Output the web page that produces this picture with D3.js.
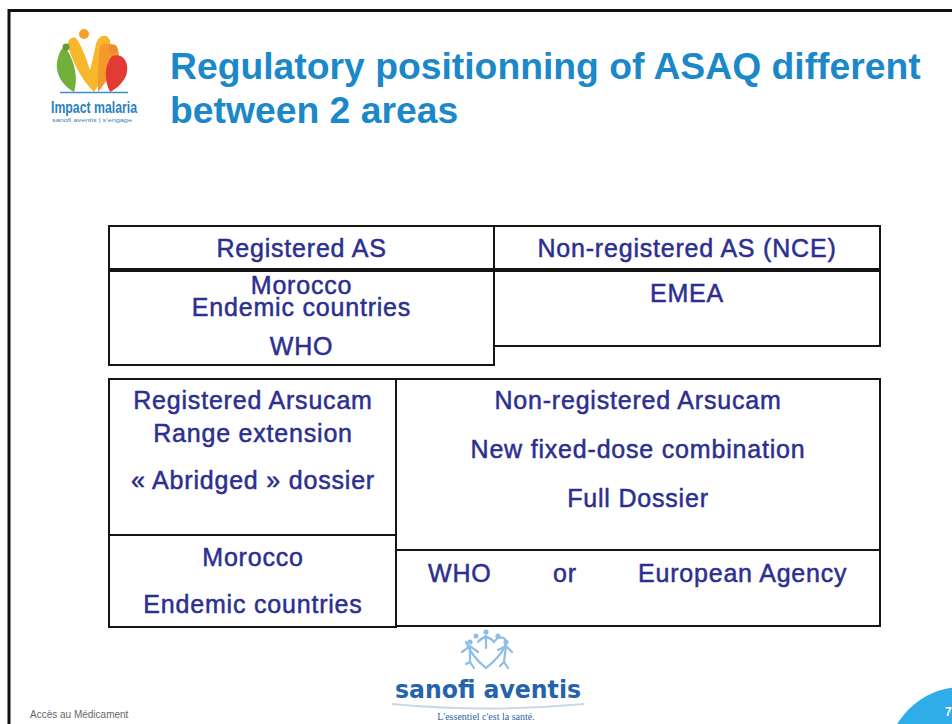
<!DOCTYPE html>
<html>
<head>
<meta charset="utf-8">
<script src="https://cdn.jsdelivr.net/npm/d3@7"></script>
<style>
  html, body { margin: 0; padding: 0; background: #fff; overflow: hidden; }
  svg { display: block; font-family: "Liberation Sans", Arial, sans-serif; }
</style>
</head>
<body>
<svg id="slide"></svg>
<script>
// slide text
var titleLines = ["Regulatory positionning of ASAQ different", "between 2 areas"];
var footerText = "Accès au Médicament";
var pageNumber = "7";

// table 1 : active substance
var asHeaders = ["Registered AS", "Non-registered AS (NCE)"];
var asBodies = [["Morocco", "Endemic countries", "WHO"], ["EMEA"]];

// table 2 : product
var productTop = [["Registered Arsucam", "Range extension", "« Abridged » dossier"],
                  ["Non-registered Arsucam", "New fixed-dose combination", "Full Dossier"]];
var productBottom = [["Morocco", "Endemic countries"], ["WHO", "or", "European Agency"]];

var width = 952, height = 724;
var svg = d3.select("#slide").attr("width", width).attr("height", height);

var blue = "#2c2f90";
var titleBlue = "#1b88c9";

// slide frame (left + top only visible)
svg.append("path")
   .attr("d", "M9,724 V10.5 H952")
   .attr("fill", "none")
   .attr("stroke", "#111")
   .attr("stroke-width", 3);

// title
svg.selectAll(".title")
   .data(titleLines)
   .enter()
   .append("text")
   .attr("class", "title")
   .attr("x", 170)
   .attr("y", function (d, i) { return 79 + i * 44; })
   .attr("fill", titleBlue)
   .attr("font-size", 37.3)
   .attr("font-weight", "bold")
   .text(function (d) { return d; });

// Impact malaria logo
var logo = svg.append("g");
logo.append("path")  // green leaf
    .attr("d", "M58,58 C54,70 60,84 74,92 C78,80 76,64 66,48 C63,46 60,50 58,58 Z")
    .attr("fill", "#72b03c");
logo.append("path")  // yellow body
    .attr("d", "M68,46 C72,60 80,78 94,92 C104,78 112,58 110,40 C106,32 98,36 96,44 C94,54 92,62 90,70 C86,58 82,46 76,38 C72,36 67,40 68,46 Z")
    .attr("fill", "#f6b72c");
logo.append("path")  // orange
    .attr("d", "M100,46 C110,40 122,46 118,58 C114,70 106,82 98,92 C98,76 98,62 100,46 Z")
    .attr("fill", "#f29a2c");
logo.append("path")  // red leaf
    .attr("d", "M112,56 C124,52 130,64 126,76 C122,84 116,89 110,92 C104,80 104,66 112,56 Z")
    .attr("fill", "#e23a35");
logo.append("circle").attr("cx", 84).attr("cy", 34).attr("r", 5).attr("fill", "#f3a128");
logo.append("circle").attr("cx", 113).attr("cy", 49).attr("r", 4.5).attr("fill", "#ef8b2a");
logo.append("circle").attr("cx", 66).attr("cy", 47).attr("r", 3.5).attr("fill", "#5f9f36");
logo.append("line").attr("x1", 60).attr("x2", 128).attr("y1", 92.5).attr("y2", 92.5)
    .attr("stroke", "#3a8fd0").attr("stroke-width", 1.5);
logo.append("text")
    .attr("x", 94).attr("y", 113)
    .attr("text-anchor", "middle")
    .attr("fill", "#2a7fc1")
    .attr("font-size", 16)
    .attr("font-weight", "bold")
    .attr("textLength", 86)
    .attr("lengthAdjust", "spacingAndGlyphs")
    .text("Impact malaria");
logo.append("text")
    .attr("x", 92).attr("y", 122)
    .attr("text-anchor", "middle")
    .attr("fill", "#3d7fbf")
    .attr("font-size", 5.5)
    .attr("textLength", 80)
    .attr("lengthAdjust", "spacingAndGlyphs")
    .text("sanofi aventis  |  s'engage");

// table cell text style
function cellText(sel) {
    sel.attr("fill", blue)
       .attr("stroke", blue)
       .attr("stroke-width", 0.5)
       .attr("font-size", 25)
       .attr("letter-spacing", 0.8);
}

function cell(x0, y0, x1, y1, lines, baselines, cx) {
    svg.append("rect")
       .attr("x", x0).attr("y", y0)
       .attr("width", x1 - x0).attr("height", y1 - y0)
       .attr("fill", "none")
       .attr("stroke", "#151515")
       .attr("stroke-width", 2);
    svg.selectAll(null)
       .data(lines)
       .enter()
       .append("text")
       .attr("x", cx === undefined ? (x0 + x1) / 2 : cx)
       .attr("y", function (d, i) { return baselines[i]; })
       .attr("text-anchor", "middle")
       .call(cellText)
       .text(function (d) { return d; });
}

// table 1
cell(109, 226, 494, 269, [asHeaders[0]], [257]);
cell(494, 226, 880, 269, [asHeaders[1]], [257]);
cell(109, 271, 494, 365, asBodies[0], [294, 316, 355]);
cell(494, 271, 880, 346, asBodies[1], [302]);

// table 2
cell(109, 379, 396, 535, productTop[0], [409, 442, 489], 253);
cell(396, 379, 880, 550, productTop[1], [409, 458, 507], 638);
cell(109, 535, 396, 627, productBottom[0], [566, 613], 253);

// bottom right cell with spread-out words
svg.append("rect")
   .attr("x", 396).attr("y", 550)
   .attr("width", 484).attr("height", 76)
   .attr("fill", "none")
   .attr("stroke", "#151515")
   .attr("stroke-width", 2);
var wordStarts = [428, 553, 638];
svg.selectAll(".agency")
   .data(productBottom[1])
   .enter()
   .append("text")
   .attr("class", "agency")
   .attr("x", function (d, i) { return wordStarts[i]; })
   .attr("y", 582)
   .call(cellText)
   .text(function (d) { return d; });

// sanofi aventis logo
var sa = svg.append("g").attr("fill", "none").attr("stroke", "#8fbde4").attr("stroke-width", 2.2).attr("stroke-linecap", "round");
sa.append("path").attr("d", "M466,642 C470,652 476,660 486,668 C496,660 504,652 506,642 C505,636 498,636 494,642 C490,636 482,636 478,642");
sa.append("path").attr("d", "M462,652 L470,646 L478,652 M470,646 L470,662 M466,664 L470,662 L474,668");
sa.append("path").attr("d", "M498,650 L506,646 L512,652 M506,646 L504,662 M500,666 L504,662 L508,668");
sa.append("path").attr("d", "M480,640 L486,636 L492,640 M486,636 L486,648");
[[470, 642], [486, 632], [506, 642], [476, 636], [498, 636]].forEach(function (p) {
    svg.append("circle").attr("cx", p[0]).attr("cy", p[1]).attr("r", 2.6).attr("fill", "#8fbde4");
});
svg.append("text")
   .attr("x", 488).attr("y", 698)
   .attr("text-anchor", "middle")
   .attr("fill", "#2563ad")
   .attr("font-family", "'DejaVu Sans', sans-serif")
   .attr("font-weight", "bold")
   .attr("font-size", 25)
   .attr("textLength", 186)
   .attr("lengthAdjust", "spacingAndGlyphs")
   .text("sanofi aventis");
svg.append("path")
   .attr("d", "M392,704 Q488,713 584,704")
   .attr("fill", "none")
   .attr("stroke", "#c9d7ea")
   .attr("stroke-width", 2);
svg.append("text")
   .attr("x", 486).attr("y", 720)
   .attr("text-anchor", "middle")
   .attr("fill", "#2f5fa8")
   .attr("font-family", "'Liberation Serif', serif")
   .attr("font-size", 10)
   .text("L'essentiel c'est la santé.");

// footer
svg.append("text")
   .attr("x", 30).attr("y", 718)
   .attr("fill", "#666")
   .attr("font-size", 10)
   .text(footerText);

// page number bubble
svg.append("circle")
   .attr("cx", 962).attr("cy", 762)
   .attr("r", 75)
   .attr("fill", "#2fade8");
svg.append("text")
   .attr("x", 945).attr("y", 716)
   .attr("fill", "#fff")
   .attr("font-size", 12)
   .attr("font-weight", "bold")
   .text(pageNumber);
</script>
</body>
</html>
